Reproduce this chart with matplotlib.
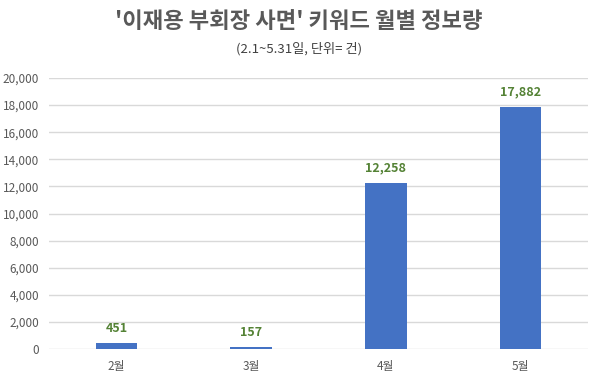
import matplotlib.pyplot as plt
import numpy as np

plt.rcParams['font.family'] = ['Noto Sans CJK KR', 'DejaVu Sans']

# data
months = ['2월', '3월', '4월', '5월']
counts = [451, 157, 12258, 17882]
yticks = np.arange(0, 20001, 2000)

fig = plt.figure(figsize=(5.98, 3.84), dpi=100)
ax = fig.add_axes([0.082, 0.091, 0.901, 0.706])

x = np.arange(len(months))
ax.bar(x, counts, width=0.31, color='#4472C4', zorder=3)

for xi, v in zip(x, counts):
    ax.annotate(f'{v:,}', (xi, v), xytext=(0, 6), textcoords='offset points',
                ha='center', va='bottom', fontsize=9, fontweight='bold', color='#548235')

ax.set_xlim(-0.5, len(months) - 0.5)
ax.set_ylim(0, 20000)
ax.set_yticks(yticks)
ax.set_yticklabels([f'{t:,}' for t in yticks])
ax.set_xticks(x)
ax.set_xticklabels(months)
ax.tick_params(axis='both', length=0, labelsize=8.5, colors='#595959')
ax.tick_params(axis='x', pad=8)
ax.tick_params(axis='y', pad=7)
ax.grid(axis='y', color='#D9D9D9', linewidth=1, zorder=0)
for s in ax.spines.values():
    s.set_visible(False)

fig.text(0.5, 0.945, "'이재용 부회장 사면' 키워드 월별 정보량", ha='center', va='center',
         fontsize=16, fontweight='bold', color='#595959')
fig.text(0.5, 0.872, '(2.1~5.31일, 단위= 건)', ha='center', va='center',
         fontsize=9.5, color='#404040')

plt.savefig('out.png', dpi=100)
